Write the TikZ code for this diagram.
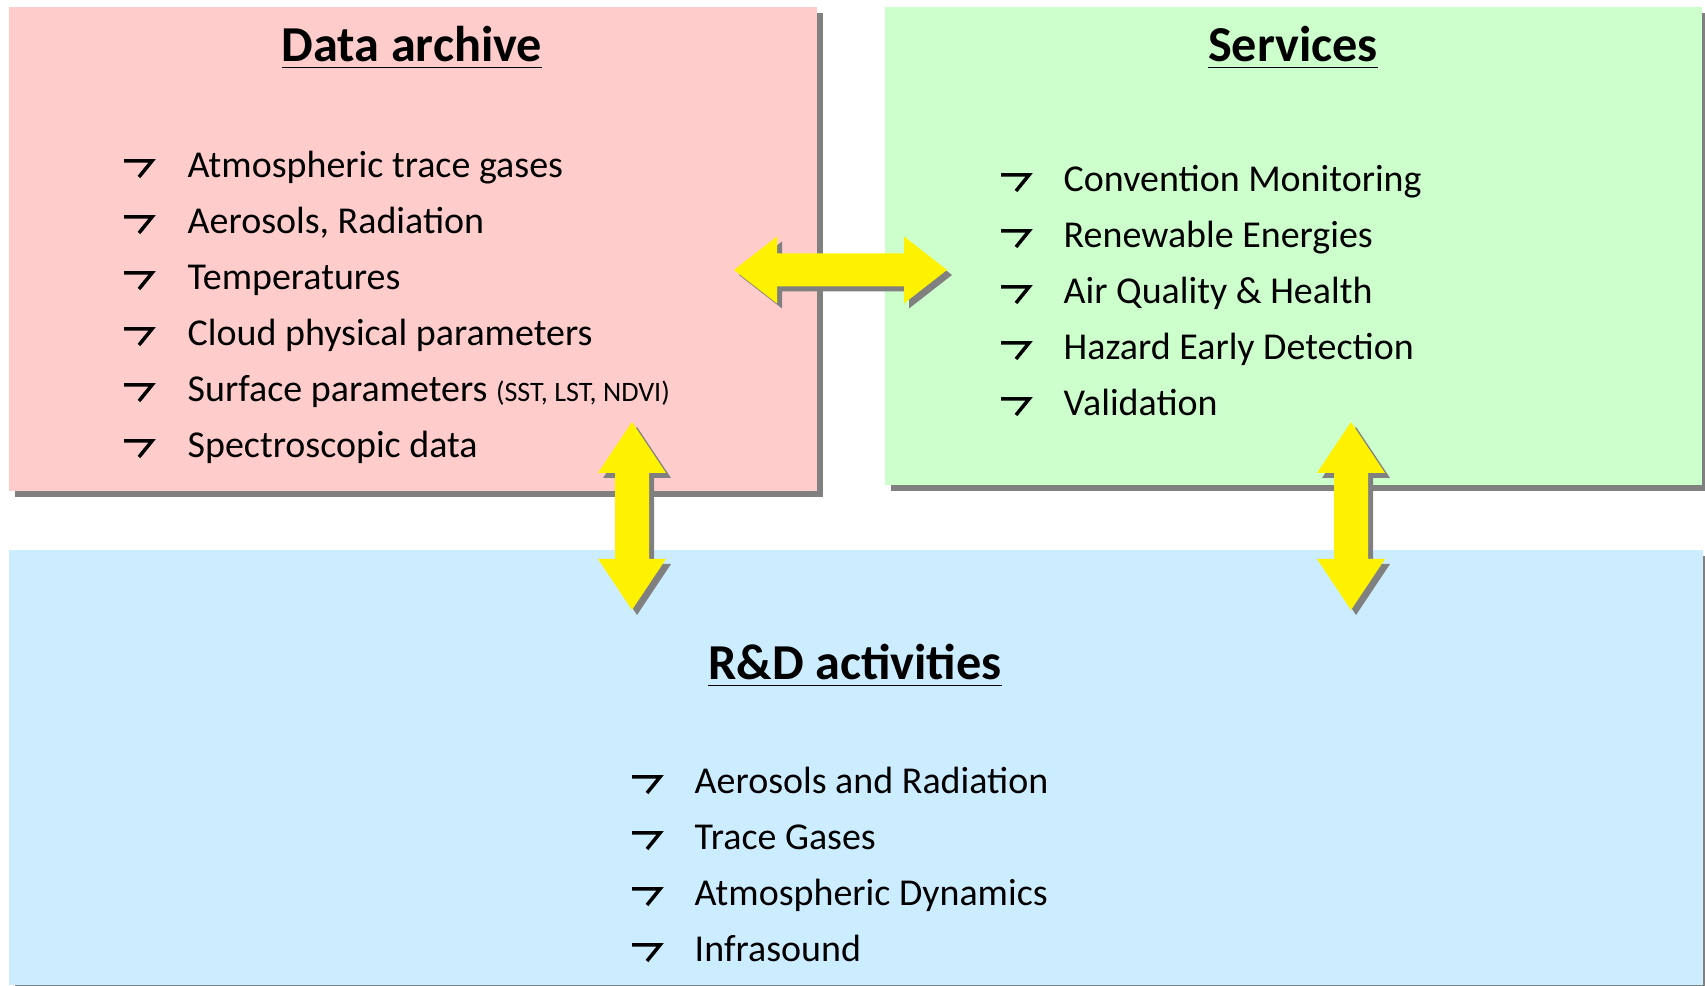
\documentclass[tikz,border=0pt]{standalone}
\usepackage{fontspec}
\setmainfont{Carlito}
\usetikzlibrary{shadows}
\definecolor{archivepink}{HTML}{FFCCCC}
\definecolor{servicegreen}{HTML}{CCFFCC}
\definecolor{rdblue}{HTML}{CCECFF}
\definecolor{shadowgray}{HTML}{808080}

\begin{document}
\begin{tikzpicture}[x=0.01cm, y=-0.01cm,
box/.style={rectangle, inner sep=0pt, drop shadow={shadow xshift=0.06cm, shadow yshift=-0.06cm, opacity=1, fill=shadowgray}},
boxtitle/.style={anchor=base, inner sep=0pt, font=\fontsize{14.3}{17}\selectfont\bfseries},
entry/.style={anchor=base west, inner sep=0pt, font=\fontsize{10.8}{13}\selectfont},
itemmark/.style={line width=0.035cm, miter limit=4},
bigarrow/.style={fill=yellow, drop shadow={shadow xshift=0.05cm, shadow yshift=-0.05cm, opacity=1, fill=shadowgray}}
]
    \useasboundingbox (0,0) rectangle (1705,986);

    % the three blocks
    \node [box, fill=archivepink, minimum width=8.08cm, minimum height=4.84cm] (archive) at (413,249) {};
    \node [box, fill=servicegreen, minimum width=8.17cm, minimum height=4.78cm] (services) at (1293.5,246) {};
    \node [box, fill=rdblue, minimum width=16.93cm, minimum height=4.35cm] (rd) at (855.5,767.5) {};

    % data archive
    \node [boxtitle] (archivetitle) at (412,62) {\underline{Data archive}};
    \node [entry] (da1) at (187,178) {Atmospheric trace gases};
    \node [entry] (da2) at (187,234) {Aerosols, Radiation};
    \node [entry] (da3) at (187,290) {Temperatures};
    \node [entry] (da4) at (187,346) {Cloud physical parameters};
    \node [entry] (da5) at (187,402) {Surface parameters {\fontsize{8}{10}\selectfont (SST, LST, NDVI)}};
    \node [entry] (da6) at (187,458) {Spectroscopic data};
    \foreach \b in {178,234,290,346,402,458}
        \draw [itemmark] (124,\b-17) -- ++(28,0) -- ++(-13,16);

    % services
    \node [boxtitle] (servicestitle) at (1293,62) {\underline{Services}};
    \node [entry] (sv1) at (1063,192) {Convention Monitoring};
    \node [entry] (sv2) at (1063,248) {Renewable Energies};
    \node [entry] (sv3) at (1063,304) {Air Quality \& Health};
    \node [entry] (sv4) at (1063,360) {Hazard Early Detection};
    \node [entry] (sv5) at (1063,416) {Validation};
    \foreach \b in {192,248,304,360,416}
        \draw [itemmark] (1001,\b-17) -- ++(28,0) -- ++(-13,16);

    % r&d
    \node [boxtitle] (rdtitle) at (855,680) {\underline{R\&D activities}};
    \node [entry] (rd1) at (694,794) {Aerosols and Radiation};
    \node [entry] (rd2) at (694,850) {Trace Gases};
    \node [entry] (rd3) at (694,906) {Atmospheric Dynamics};
    \node [entry] (rd4) at (694,962) {Infrasound};
    \foreach \b in {794,850,906,962}
        \draw [itemmark] (632,\b-17) -- ++(28,0) -- ++(-13,16);

    % exchange arrows between the blocks
    \fill [bigarrow] (734,270) -- (777,236.5) -- (777,253.5) -- (904,253.5) -- (904,236.5) -- (947,270)
        -- (904,303.5) -- (904,286.5) -- (777,286.5) -- (777,303.5) -- cycle;
    \fill [bigarrow] (632,422) -- (666,473) -- (649,473) -- (649,559) -- (666,559) -- (632,610)
        -- (598,559) -- (615,559) -- (615,473) -- (598,473) -- cycle;
    \fill [bigarrow] (1351,422) -- (1385,473) -- (1368,473) -- (1368,559) -- (1385,559) -- (1351,610)
        -- (1317,559) -- (1334,559) -- (1334,473) -- (1317,473) -- cycle;
\end{tikzpicture}
\end{document}
